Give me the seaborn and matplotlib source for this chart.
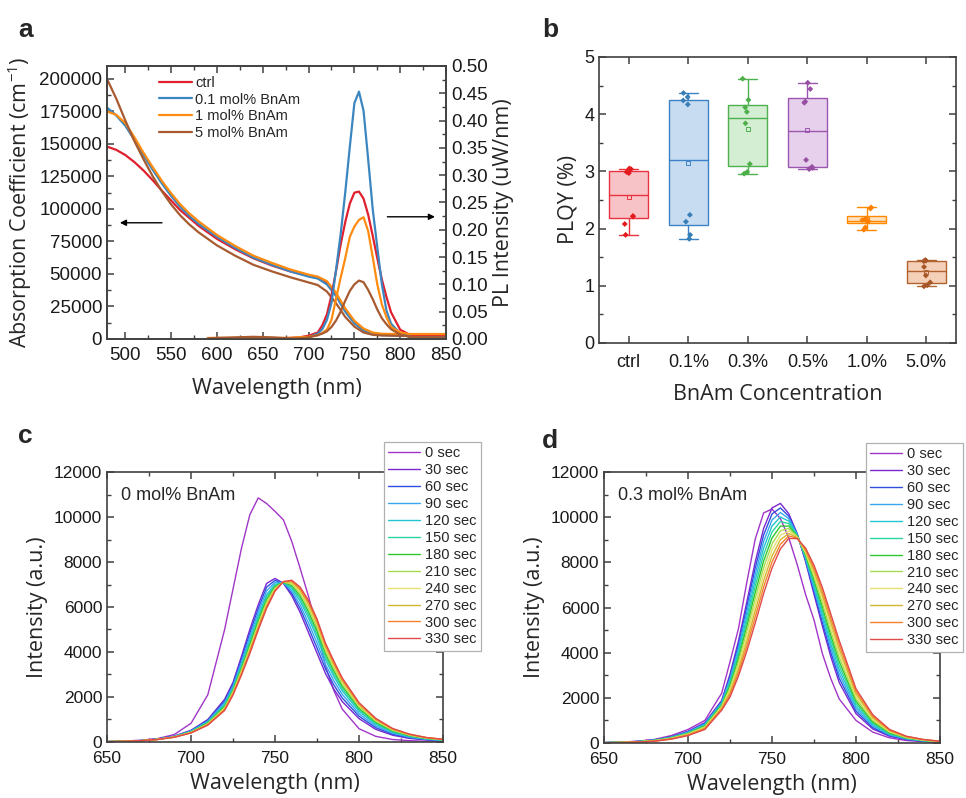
import numpy as np
import pandas as pd
import matplotlib
matplotlib.use('Agg')
import matplotlib.pyplot as plt
from matplotlib.ticker import MultipleLocator, FormatStrFormatter
import seaborn as sns

# ---------------- data ----------------
# panel a : absorption (left axis) and PL (right axis)
abs_wl = [480, 490, 500, 510, 520, 530, 540, 550, 560, 570, 580, 600, 620, 640,
          660, 680, 700, 710, 720, 730, 740, 750, 760, 770, 780, 800, 850]
abs_ctrl = [148000, 145500, 141500, 136000, 129500, 122000, 114000, 106500, 99000, 93000,
            87000, 77000, 69000, 62000, 56500, 52000, 48500, 47000, 43000, 34500, 22500,
            13000, 7000, 4200, 3300, 2800, 2600]
abs_01 = [178000, 172000, 164000, 153000, 141000, 130000, 119500, 110000, 101500, 94500,
          88500, 78500, 70000, 62500, 57000, 52000, 48000, 46500, 42000, 33000, 21000,
          12000, 6500, 3800, 3000, 2500, 2300]
abs_1 = [175000, 172500, 166000, 155000, 143000, 132000, 121500, 112000, 103500, 96500,
         90500, 80000, 71500, 64000, 58500, 53500, 49500, 48000, 44500, 35500, 23500,
         14000, 8000, 5000, 4000, 3800, 3800]
abs_5 = [200000, 185000, 168000, 152000, 138000, 125000, 113500, 103500, 95000, 88000,
         82000, 72000, 64000, 57000, 52000, 47500, 43500, 41500, 36500, 27500, 17000,
         9500, 5000, 3200, 2700, 2500, 2400]

pl_wl = [590, 600, 620, 640, 660, 680, 690, 700, 710, 715, 720, 725, 730, 735, 740,
         745, 750, 755, 760, 765, 770, 775, 780, 785, 790, 800, 810, 820, 850]
pl_ctrl = [0.001, 0.001, 0.001, 0.001, 0.001, 0.002, 0.003, 0.006, 0.012, 0.025, 0.045,
           0.080, 0.125, 0.173, 0.214, 0.248, 0.268, 0.270, 0.257, 0.228, 0.189, 0.148,
           0.109, 0.077, 0.049, 0.017, 0.008, 0.007, 0.007]
pl_01 = [0.0, 0.0, 0.0, 0.0, 0.0, 0.001, 0.001, 0.003, 0.010, 0.018, 0.035, 0.066,
         0.127, 0.192, 0.268, 0.352, 0.432, 0.453, 0.418, 0.330, 0.238, 0.168, 0.100,
         0.052, 0.028, 0.010, 0.004, 0.003, 0.003]
pl_1 = [0.002, 0.002, 0.002, 0.002, 0.002, 0.002, 0.003, 0.004, 0.007, 0.011, 0.017,
        0.035, 0.074, 0.112, 0.148, 0.187, 0.206, 0.218, 0.223, 0.198, 0.150, 0.100,
        0.063, 0.040, 0.022, 0.012, 0.009, 0.009, 0.009]
pl_5 = [0.001, 0.002, 0.003, 0.004, 0.003, 0.001, 0.001, 0.003, 0.007, 0.010, 0.014,
        0.022, 0.034, 0.050, 0.070, 0.088, 0.100, 0.107, 0.104, 0.090, 0.073, 0.054,
        0.038, 0.027, 0.018, 0.008, 0.004, 0.003, 0.003]

a_labels = ['ctrl', '0.1 mol% BnAm', '1 mol% BnAm', '5 mol% BnAm']
a_colors = ['#e0202e', '#3c86c0', '#ff8c10', '#a85a30']

# panel b : PLQY per sample
cats = ['ctrl', '0.1%', '0.3%', '0.5%', '1.0%', '5.0%']
plqy_ctrl = [3.05, 3.04, 2.99, 2.97, 2.22, 2.21, 2.08, 1.89]
plqy_01 = [4.37, 4.30, 4.24, 4.17, 2.24, 2.12, 1.89, 1.82]
plqy_03 = [4.62, 4.25, 4.12, 4.04, 3.84, 3.13, 2.99, 2.96]
plqy_05 = [4.55, 4.44, 4.22, 4.20, 3.20, 3.08, 3.06, 3.04]
plqy_10 = [2.37, 2.35, 2.17, 2.15, 2.13, 2.12, 2.02, 1.98]
plqy_50 = [1.45, 1.44, 1.43, 1.33, 1.18, 1.06, 1.01, 0.99]
b_edges = ['#e8323e', '#3b83c6', '#4fb04f', '#9c55b0', '#ff8a00', '#b0622f']
b_fills = ['#f8c3c7', '#c7dcf1', '#d3eed2', '#e6d0ec', '#fde3c4', '#f5d0b8']
b_points = ['#e41a1c', '#377eb8', '#4daf4a', '#984ea3', '#ff7f00', '#a65628']

# panels c, d : PL spectra vs time
wl_cd = [650, 660, 670, 680, 690, 700, 710, 720, 725, 730, 735, 740, 745, 750,
         755, 760, 765, 770, 775, 780, 785, 790, 800, 810, 820, 830, 840, 850]
time_labels = ['0 sec', '30 sec', '60 sec', '90 sec', '120 sec', '150 sec',
               '180 sec', '210 sec', '240 sec', '270 sec', '300 sec', '330 sec']
time_colors = ['#a035c8', '#7a28d0', '#2f4fe0', '#3aa6f0', '#22c4d0', '#2bd4a0',
               '#2ec82e', '#a8dc50', '#e6e070', '#d4b830', '#f5822a', '#e04a4a']

c_0 = [20, 40, 80, 150, 330, 830, 2100, 5000, 6800, 8600, 10100, 10850, 10600, 10250,
       9875, 8905, 7706, 6460, 5050, 3380, 2290, 1463, 590, 250, 110, 60, 30, 20]
c_30 = [15, 30, 60, 130, 260, 520, 1000, 1900, 2650, 3800, 5000, 6100, 7050, 7270,
        7050, 6500, 5750, 4850, 3950, 3050, 2350, 1800, 1040, 560, 300, 160, 90, 50]
c_60 = [15, 30, 59, 127, 252, 502, 962, 1825, 2566, 3675, 4840, 5930, 6884, 7184,
        7062, 6604, 5920, 5066, 4178, 3252, 2538, 1958, 1146, 634, 345, 188, 106, 60]
c_90 = [15, 29, 58, 124, 245, 484, 925, 1750, 2482, 3551, 4679, 5761, 6717, 7099,
        7074, 6707, 6089, 5282, 4406, 3455, 2725, 2115, 1253, 707, 390, 217, 123, 71]
c_120 = [15, 29, 58, 121, 238, 466, 888, 1675, 2398, 3427, 4519, 5592, 6551, 7014,
         7086, 6811, 6259, 5498, 4634, 3658, 2913, 2273, 1360, 781, 435, 246, 140, 82]
c_150 = [15, 29, 57, 119, 232, 454, 862, 1625, 2342, 3344, 4412, 5479, 6440, 6957,
         7094, 6880, 6372, 5642, 4786, 3793, 3038, 2378, 1431, 830, 465, 265, 151, 89]
c_180 = [15, 29, 57, 117, 228, 442, 838, 1575, 2286, 3261, 4305, 5366, 6329, 6900,
         7102, 6949, 6485, 5786, 4938, 3928, 3163, 2483, 1502, 879, 495, 284, 162, 96]
c_210 = [15, 29, 56, 115, 222, 430, 812, 1525, 2230, 3178, 4198, 5253, 6218, 6843,
         7110, 7018, 6598, 5930, 5090, 4063, 3288, 2588, 1573, 928, 525, 303, 173, 103]
c_240 = [15, 28, 56, 114, 219, 422, 795, 1490, 2191, 3119, 4123, 5173, 6140, 6803,
         7116, 7066, 6677, 6031, 5196, 4157, 3375, 2661, 1622, 962, 546, 316, 180, 107]
c_270 = [15, 28, 56, 112, 216, 414, 780, 1460, 2157, 3070, 4058, 5106, 6073, 6768,
         7120, 7107, 6744, 6117, 5288, 4238, 3450, 2724, 1665, 991, 564, 327, 187, 112]
c_300 = [15, 28, 55, 111, 213, 407, 765, 1430, 2124, 3020, 3994, 5038, 6007, 6734,
         7125, 7149, 6812, 6204, 5379, 4319, 3525, 2787, 1707, 1021, 582, 339, 193, 116]
c_330 = [15, 28, 55, 110, 210, 400, 750, 1400, 2090, 2970, 3930, 4970, 5940, 6700,
         7130, 7190, 6880, 6290, 5470, 4400, 3600, 2850, 1750, 1050, 600, 350, 200, 120]

d_0 = [20, 40, 80, 160, 330, 600, 1000, 2200, 3600, 5060, 7120, 9030, 10190, 10360,
       9940, 9080, 7900, 6570, 5450, 3950, 2850, 1950, 1000, 480, 230, 110, 60, 30]
d_30 = [18, 35, 70, 140, 280, 520, 900, 1880, 3050, 4510, 6250, 8020, 9500, 10410,
        10610, 10150, 9270, 8020, 6580, 5170, 3820, 2680, 1300, 620, 300, 150, 80, 40]
d_60 = [17, 34, 67, 134, 269, 501, 870, 1837, 2949, 4355, 6032, 7749, 9212, 10144,
        10409, 10041, 9248, 8081, 6709, 5341, 4009, 2866, 1410, 683, 330, 165, 88, 44]
d_90 = [16, 32, 64, 128, 258, 482, 840, 1794, 2848, 4200, 5814, 7478, 8924, 9878,
        10208, 9932, 9226, 8142, 6838, 5512, 4198, 3052, 1520, 746, 360, 180, 96, 48]
d_120 = [16, 31, 61, 122, 247, 463, 810, 1751, 2747, 4045, 5596, 7207, 8636, 9612,
         10007, 9823, 9204, 8203, 6967, 5683, 4387, 3238, 1630, 809, 390, 195, 104, 52]
d_150 = [15, 29, 58, 116, 236, 444, 780, 1708, 2646, 3890, 5378, 6936, 8348, 9346,
         9806, 9714, 9182, 8264, 7096, 5854, 4576, 3424, 1740, 872, 420, 210, 112, 56]
d_180 = [14, 28, 55, 110, 225, 425, 750, 1665, 2545, 3735, 5160, 6665, 8060, 9080,
         9605, 9605, 9160, 8325, 7225, 6025, 4765, 3610, 1850, 935, 450, 225, 120, 60]
d_210 = [13, 26, 52, 104, 214, 406, 720, 1622, 2444, 3580, 4942, 6394, 7772, 8814,
         9404, 9496, 9138, 8386, 7354, 6196, 4954, 3796, 1960, 998, 480, 240, 128, 64]
d_240 = [12, 25, 49, 98, 203, 387, 690, 1579, 2343, 3425, 4724, 6123, 7484, 8548,
         9203, 9387, 9116, 8447, 7483, 6367, 5143, 3982, 2070, 1061, 510, 255, 136, 68]
d_270 = [12, 23, 46, 92, 192, 368, 660, 1536, 2242, 3270, 4506, 5852, 7196, 8282,
         9002, 9278, 9094, 8508, 7612, 6538, 5332, 4168, 2180, 1124, 540, 270, 144, 72]
d_300 = [11, 22, 43, 86, 181, 349, 630, 1493, 2141, 3115, 4288, 5581, 6908, 8016,
         8801, 9169, 9072, 8569, 7741, 6709, 5521, 4354, 2290, 1187, 570, 285, 152, 76]
d_330 = [10, 20, 40, 80, 170, 330, 600, 1450, 2040, 2960, 4070, 5310, 6620, 7750,
         8600, 9060, 9050, 8630, 7870, 6880, 5710, 4540, 2400, 1250, 600, 300, 160, 80]

c_curves = [c_0, c_30, c_60, c_90, c_120, c_150, c_180, c_210, c_240, c_270, c_300, c_330]
d_curves = [d_0, d_30, d_60, d_90, d_120, d_150, d_180, d_210, d_240, d_270, d_300, d_330]

# ---------------- style ----------------
sns.set_style('ticks')
plt.rcParams['font.family'] = ['Liberation Sans', 'DejaVu Sans']
plt.rcParams['mathtext.fontset'] = 'custom'
plt.rcParams['mathtext.rm'] = 'Open Sans'
plt.rcParams['mathtext.default'] = 'regular'

label_font = dict(family=['Open Sans', 'DejaVu Sans'], size=15.5)
spine_col = '#404040'


def frame(ax, right=True, top=True, size=12.5):
    for s in ax.spines.values():
        s.set_linewidth(1.2)
        s.set_color(spine_col)
    ax.tick_params(which='both', direction='in', top=top, right=right,
                   color=spine_col, labelcolor='#1a1a1a', labelsize=size)
    ax.tick_params(which='major', length=5, width=1.1)
    ax.tick_params(which='minor', length=3, width=1.0)


fig = plt.figure(figsize=(9.66, 7.98), dpi=100)

# ---------------- panel a ----------------
ax_a = fig.add_axes([0.1108, 0.5752, 0.3509, 0.3421])
for vals, col, lab in zip([abs_ctrl, abs_01, abs_1, abs_5], a_colors, a_labels):
    sns.lineplot(x=abs_wl, y=vals, color=col, lw=1.6, label=lab, ax=ax_a)
ax_a2 = ax_a.twinx()
for vals, col in zip([pl_ctrl, pl_01, pl_1, pl_5], a_colors):
    sns.lineplot(x=pl_wl, y=vals, color=col, lw=1.6, ax=ax_a2)

ax_a.set_xlim(480, 850)
ax_a.set_ylim(0, 210000)
ax_a2.set_ylim(0, 0.5)
ax_a.xaxis.set_major_locator(MultipleLocator(50))
ax_a.xaxis.set_minor_locator(MultipleLocator(25))
ax_a.yaxis.set_major_locator(MultipleLocator(25000))
ax_a.yaxis.set_minor_locator(MultipleLocator(12500))
ax_a.yaxis.set_major_formatter(FormatStrFormatter('%d'))
ax_a2.yaxis.set_major_locator(MultipleLocator(0.05))
ax_a2.yaxis.set_minor_locator(MultipleLocator(0.025))
ax_a2.yaxis.set_major_formatter(FormatStrFormatter('%.2f'))
frame(ax_a, right=False, size=13.5)
frame(ax_a2, size=13.5)
ax_a2.tick_params(which='both', left=False)
ax_a.tick_params(axis='x', pad=6)
ax_a.set_xlabel('Wavelength (nm)', labelpad=10, **label_font)
ax_a.set_ylabel('Absorption Coefficient (cm$^{-1}$)', labelpad=4, **label_font)
ax_a2.set_ylabel('PL Intensity (uW/nm)', labelpad=4, **label_font)
ax_a.legend(loc='upper left', bbox_to_anchor=(0.135, 0.985), frameon=False, fontsize=10.5,
            handlelength=2.3, handletextpad=0.2, labelspacing=0.18, borderaxespad=0)
ax_a.annotate('', xy=(491, 89400), xytext=(543, 89400),
              arrowprops=dict(arrowstyle='-|>', color='black', lw=1.0, mutation_scale=9))
ax_a.annotate('', xy=(841, 94000), xytext=(783, 94000),
              arrowprops=dict(arrowstyle='-|>', color='black', lw=1.0, mutation_scale=9))

# ---------------- panel b ----------------
ax_b = fig.add_axes([0.6201, 0.5702, 0.3696, 0.3584])
df_b = pd.DataFrame({
    'conc': np.repeat(cats, 8),
    'plqy': plqy_ctrl + plqy_01 + plqy_03 + plqy_05 + plqy_10 + plqy_50,
})
for cat, fc, ec in zip(cats, b_fills, b_edges):
    sub = df_b[df_b['conc'] == cat]
    sns.boxplot(data=sub, x='conc', y='plqy', order=cats, color=fc, linecolor=ec,
                saturation=1, width=0.65, whis=(0, 100), showfliers=False,
                showmeans=True, linewidth=1.0,
                meanprops=dict(marker='s', markerfacecolor='none', markeredgecolor=ec,
                               markersize=3.5, markeredgewidth=0.7),
                ax=ax_b)
np.random.seed(3)
sns.stripplot(data=df_b, x='conc', y='plqy', hue='conc', order=cats, hue_order=cats,
              palette=b_points, jitter=0.09, size=3.0, marker='D', linewidth=0,
              legend=False, ax=ax_b, zorder=4)
ax_b.set_xlim(-0.5, 5.5)
ax_b.set_ylim(0, 5)
ax_b.yaxis.set_major_locator(MultipleLocator(1))
ax_b.yaxis.set_minor_locator(MultipleLocator(0.5))
frame(ax_b, size=13)
ax_b.tick_params(axis='x', which='minor', bottom=False, top=False)
ax_b.tick_params(axis='x', pad=8)
ax_b.set_xlabel('BnAm Concentration', labelpad=9, **label_font)
ax_b.set_ylabel('PLQY (%)', **label_font)

# ---------------- panels c, d ----------------
def spectra_panel(rect, curves, note, leg_anchor):
    ax = fig.add_axes(rect)
    for vals, col, lab in zip(curves, time_colors, time_labels):
        sns.lineplot(x=wl_cd, y=vals, color=col, lw=1.0, label=lab, ax=ax)
    ax.set_xlim(650, 850)
    ax.set_ylim(0, 12000)
    ax.xaxis.set_major_locator(MultipleLocator(50))
    ax.xaxis.set_minor_locator(MultipleLocator(25))
    ax.yaxis.set_major_locator(MultipleLocator(2000))
    ax.yaxis.set_minor_locator(MultipleLocator(1000))
    frame(ax)
    ax.tick_params(axis='x', pad=6.5)
    ax.set_xlabel('Wavelength (nm)', labelpad=5, **label_font)
    ax.set_ylabel('Intensity (a.u.)', **label_font)
    ax.text(0.042, 0.945, note, transform=ax.transAxes, fontsize=13, va='top', ha='left')
    leg = ax.legend(loc='upper left', bbox_to_anchor=leg_anchor, bbox_transform=fig.transFigure,
                    fontsize=10.5, handlelength=2.2, handletextpad=0.3, labelspacing=0.2,
                    borderpad=0.3, borderaxespad=0, fancybox=False, framealpha=1)
    leg.get_frame().set_edgecolor('#b0b0b0')
    leg.get_frame().set_linewidth(0.9)
    return ax


ax_c = spectra_panel([0.1108, 0.0702, 0.3478, 0.3383], c_curves, '0 mol% BnAm',
                     (0.3975, 0.4461))
ax_d = spectra_panel([0.6253, 0.0689, 0.3478, 0.3396], d_curves, '0.3 mol% BnAm',
                     (0.8965, 0.4452))

# panel letters
for x, y, s in [(0.019, 0.954, 'a'), (0.561, 0.954, 'b'), (0.019, 0.445, 'c'), (0.561, 0.439, 'd')]:
    fig.text(x, y, s, fontsize=19, fontweight='bold', va='baseline', ha='left')

fig.savefig('out.png', dpi=100)
